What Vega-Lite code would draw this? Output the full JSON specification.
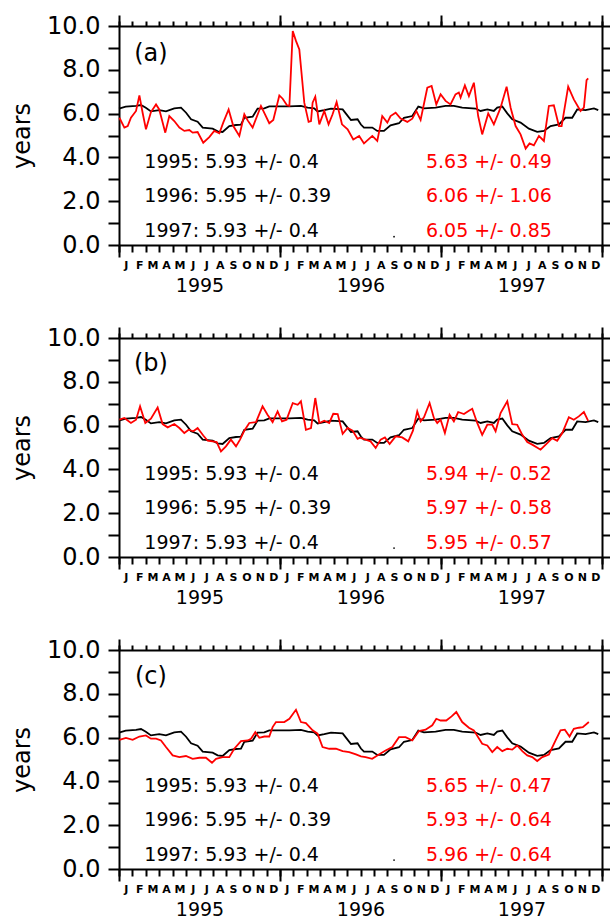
{
  "$schema": "https://vega.github.io/schema/vega-lite/v6.json",
  "padding": {"left": 10, "top": 14, "right": 5, "bottom": 5},
  "config": {
    "font": "DejaVu Sans",
    "view": {"stroke": null},
    "axis": {"grid": false, "domainColor": "black", "domainWidth": 2, "tickColor": "black", "tickWidth": 2, "labelColor": "black", "titleColor": "black", "labelFlush": false, "labelOverlap": false, "labelBound": false}
  },
  "datasets": {
    "black": [
      {"t":0.0,"v":6.23},{"t":0.5,"v":6.32},{"t":1.27,"v":6.35},{"t":1.64,"v":6.39},{"t":2.0,"v":6.27},{"t":2.38,"v":6.1},{"t":3.0,"v":6.16},{"t":3.5,"v":6.1},{"t":4.12,"v":6.24},{"t":4.62,"v":6.27},{"t":5.0,"v":6.04},{"t":5.37,"v":5.74},{"t":5.86,"v":5.63},{"t":6.24,"v":5.36},{"t":6.98,"v":5.31},{"t":7.35,"v":5.19},{"t":7.72,"v":5.16},{"t":8.22,"v":5.43},{"t":8.72,"v":5.48},{"t":9.09,"v":5.5},{"t":9.34,"v":5.81},{"t":9.96,"v":5.86},{"t":10.33,"v":6.23},{"t":10.83,"v":6.24},{"t":11.2,"v":6.33},{"t":11.95,"v":6.33},{"t":12.7,"v":6.33},{"t":13.56,"v":6.35},{"t":14.06,"v":6.27},{"t":14.55,"v":6.24},{"t":14.8,"v":6.1},{"t":15.3,"v":6.16},{"t":15.8,"v":6.23},{"t":16.67,"v":6.19},{"t":16.9,"v":6.01},{"t":17.29,"v":5.71},{"t":17.78,"v":5.74},{"t":18.03,"v":5.5},{"t":18.26,"v":5.36},{"t":18.88,"v":5.36},{"t":19.25,"v":5.21},{"t":19.75,"v":5.21},{"t":20.24,"v":5.46},{"t":20.87,"v":5.56},{"t":21.24,"v":5.81},{"t":21.86,"v":5.89},{"t":22.31,"v":6.32},{"t":22.73,"v":6.24},{"t":23.6,"v":6.27},{"t":24.34,"v":6.35},{"t":24.96,"v":6.35},{"t":25.58,"v":6.27},{"t":26.58,"v":6.23},{"t":26.95,"v":6.12},{"t":27.45,"v":6.19},{"t":27.94,"v":6.12},{"t":28.19,"v":6.27},{"t":28.57,"v":6.32},{"t":28.94,"v":6.01},{"t":29.31,"v":5.74},{"t":29.93,"v":5.59},{"t":30.55,"v":5.31},{"t":31.17,"v":5.17},{"t":31.67,"v":5.21},{"t":32.17,"v":5.43},{"t":32.79,"v":5.51},{"t":33.28,"v":5.81},{"t":33.78,"v":5.81},{"t":34.15,"v":6.19},{"t":34.77,"v":6.16},{"t":35.4,"v":6.24},{"t":35.72,"v":6.16}
    ],
    "red": [
      {"p":"a","t":0.03,"v":5.81},{"p":"a","t":0.4,"v":5.36},{"p":"a","t":0.65,"v":5.43},{"p":"a","t":0.89,"v":5.81},{"p":"a","t":1.27,"v":6.12},{"p":"a","t":1.52,"v":6.83},{"p":"a","t":1.76,"v":6.04},{"p":"a","t":2.01,"v":5.28},{"p":"a","t":2.38,"v":6.07},{"p":"a","t":2.76,"v":6.42},{"p":"a","t":3.0,"v":6.19},{"p":"a","t":3.45,"v":5.13},{"p":"a","t":3.75,"v":5.89},{"p":"a","t":4.12,"v":5.66},{"p":"a","t":4.5,"v":5.36},{"p":"a","t":4.87,"v":5.21},{"p":"a","t":5.24,"v":5.25},{"p":"a","t":5.49,"v":5.13},{"p":"a","t":5.86,"v":5.16},{"p":"a","t":6.28,"v":4.67},{"p":"a","t":6.73,"v":4.93},{"p":"a","t":7.1,"v":5.21},{"p":"a","t":7.48,"v":5.1},{"p":"a","t":7.77,"v":5.59},{"p":"a","t":8.17,"v":6.19},{"p":"a","t":8.52,"v":5.43},{"p":"a","t":8.97,"v":4.98},{"p":"a","t":9.34,"v":5.97},{"p":"a","t":9.59,"v":5.69},{"p":"a","t":9.96,"v":5.36},{"p":"a","t":10.58,"v":6.35},{"p":"a","t":11.2,"v":5.56},{"p":"a","t":11.5,"v":5.71},{"p":"a","t":11.95,"v":6.83},{"p":"a","t":12.2,"v":6.68},{"p":"a","t":12.52,"v":6.38},{"p":"a","t":12.7,"v":6.35},{"p":"a","t":12.95,"v":9.77},{"p":"a","t":13.19,"v":9.32},{"p":"a","t":13.44,"v":8.93},{"p":"a","t":13.81,"v":6.5},{"p":"a","t":14.13,"v":5.62},{"p":"a","t":14.31,"v":5.66},{"p":"a","t":14.43,"v":6.5},{"p":"a","t":14.63,"v":6.77},{"p":"a","t":14.93,"v":5.51},{"p":"a","t":15.3,"v":6.12},{"p":"a","t":15.62,"v":5.51},{"p":"a","t":15.92,"v":5.97},{"p":"a","t":16.22,"v":6.53},{"p":"a","t":16.62,"v":5.51},{"p":"a","t":17.04,"v":5.28},{"p":"a","t":17.46,"v":4.82},{"p":"a","t":17.9,"v":4.98},{"p":"a","t":18.26,"v":4.64},{"p":"a","t":18.88,"v":4.98},{"p":"a","t":19.25,"v":4.75},{"p":"a","t":19.62,"v":5.89},{"p":"a","t":20.0,"v":5.59},{"p":"a","t":20.24,"v":5.89},{"p":"a","t":20.62,"v":6.04},{"p":"a","t":20.99,"v":5.77},{"p":"a","t":21.49,"v":5.62},{"p":"a","t":21.86,"v":5.77},{"p":"a","t":22.16,"v":6.12},{"p":"a","t":22.48,"v":5.71},{"p":"a","t":22.98,"v":7.18},{"p":"a","t":23.3,"v":7.26},{"p":"a","t":23.65,"v":6.42},{"p":"a","t":23.97,"v":6.88},{"p":"a","t":24.34,"v":6.58},{"p":"a","t":24.71,"v":6.42},{"p":"a","t":25.08,"v":6.88},{"p":"a","t":25.33,"v":6.96},{"p":"a","t":25.46,"v":6.73},{"p":"a","t":25.78,"v":7.29},{"p":"a","t":26.08,"v":6.8},{"p":"a","t":26.45,"v":7.41},{"p":"a","t":26.77,"v":5.89},{"p":"a","t":27.07,"v":5.05},{"p":"a","t":27.52,"v":6.01},{"p":"a","t":27.94,"v":5.51},{"p":"a","t":28.44,"v":6.27},{"p":"a","t":28.89,"v":7.23},{"p":"a","t":29.19,"v":6.27},{"p":"a","t":29.56,"v":5.43},{"p":"a","t":29.93,"v":5.05},{"p":"a","t":30.31,"v":4.4},{"p":"a","t":30.6,"v":4.64},{"p":"a","t":30.92,"v":4.55},{"p":"a","t":31.3,"v":4.98},{"p":"a","t":31.67,"v":4.75},{"p":"a","t":32.04,"v":6.35},{"p":"a","t":32.41,"v":6.38},{"p":"a","t":32.79,"v":5.43},{"p":"a","t":32.99,"v":5.43},{"p":"a","t":33.48,"v":7.23},{"p":"a","t":33.9,"v":6.65},{"p":"a","t":34.4,"v":6.12},{"p":"a","t":34.65,"v":6.27},{"p":"a","t":34.85,"v":7.53},{"p":"a","t":34.97,"v":7.61},
      {"p":"b","t":0.03,"v":6.27},{"p":"b","t":0.4,"v":6.35},{"p":"b","t":0.89,"v":6.12},{"p":"b","t":1.27,"v":6.27},{"p":"b","t":1.57,"v":6.88},{"p":"b","t":1.96,"v":6.12},{"p":"b","t":2.38,"v":6.32},{"p":"b","t":2.88,"v":6.83},{"p":"b","t":3.25,"v":6.07},{"p":"b","t":3.63,"v":5.92},{"p":"b","t":4.12,"v":6.07},{"p":"b","t":4.5,"v":5.89},{"p":"b","t":4.87,"v":5.66},{"p":"b","t":5.19,"v":5.81},{"p":"b","t":5.54,"v":5.74},{"p":"b","t":5.86,"v":5.89},{"p":"b","t":6.28,"v":5.55},{"p":"b","t":6.61,"v":5.31},{"p":"b","t":6.98,"v":5.28},{"p":"b","t":7.28,"v":5.25},{"p":"b","t":7.6,"v":4.82},{"p":"b","t":7.97,"v":5.05},{"p":"b","t":8.34,"v":5.36},{"p":"b","t":8.72,"v":5.05},{"p":"b","t":9.02,"v":5.36},{"p":"b","t":9.34,"v":5.77},{"p":"b","t":9.71,"v":6.12},{"p":"b","t":10.21,"v":6.16},{"p":"b","t":10.7,"v":6.88},{"p":"b","t":11.07,"v":6.5},{"p":"b","t":11.45,"v":6.16},{"p":"b","t":11.82,"v":6.65},{"p":"b","t":12.15,"v":6.19},{"p":"b","t":12.49,"v":6.27},{"p":"b","t":12.95,"v":7.03},{"p":"b","t":13.32,"v":6.95},{"p":"b","t":13.56,"v":7.11},{"p":"b","t":13.93,"v":5.81},{"p":"b","t":14.31,"v":5.89},{"p":"b","t":14.63,"v":7.26},{"p":"b","t":14.93,"v":6.12},{"p":"b","t":15.3,"v":6.22},{"p":"b","t":15.67,"v":6.12},{"p":"b","t":15.97,"v":6.54},{"p":"b","t":16.3,"v":6.53},{"p":"b","t":16.67,"v":5.62},{"p":"b","t":17.04,"v":5.89},{"p":"b","t":17.41,"v":5.77},{"p":"b","t":17.78,"v":5.4},{"p":"b","t":17.95,"v":5.45},{"p":"b","t":18.38,"v":5.36},{"p":"b","t":18.75,"v":5.28},{"p":"b","t":19.13,"v":4.98},{"p":"b","t":19.5,"v":5.36},{"p":"b","t":19.82,"v":5.46},{"p":"b","t":20.17,"v":5.16},{"p":"b","t":20.62,"v":5.51},{"p":"b","t":21.11,"v":5.46},{"p":"b","t":21.56,"v":5.28},{"p":"b","t":21.91,"v":5.77},{"p":"b","t":22.23,"v":6.65},{"p":"b","t":22.48,"v":6.19},{"p":"b","t":22.73,"v":6.38},{"p":"b","t":23.15,"v":7.03},{"p":"b","t":23.47,"v":6.35},{"p":"b","t":23.72,"v":6.12},{"p":"b","t":23.97,"v":6.27},{"p":"b","t":24.29,"v":5.66},{"p":"b","t":24.64,"v":6.5},{"p":"b","t":24.96,"v":6.19},{"p":"b","t":25.28,"v":6.62},{"p":"b","t":25.71,"v":6.53},{"p":"b","t":26.08,"v":6.68},{"p":"b","t":26.33,"v":6.77},{"p":"b","t":26.7,"v":6.12},{"p":"b","t":27.07,"v":5.58},{"p":"b","t":27.45,"v":6.04},{"p":"b","t":27.82,"v":6.04},{"p":"b","t":28.07,"v":5.74},{"p":"b","t":28.44,"v":6.57},{"p":"b","t":28.94,"v":7.11},{"p":"b","t":29.31,"v":6.07},{"p":"b","t":29.68,"v":6.04},{"p":"b","t":30.06,"v":5.58},{"p":"b","t":30.43,"v":5.25},{"p":"b","t":30.8,"v":5.13},{"p":"b","t":31.42,"v":4.9},{"p":"b","t":31.92,"v":5.2},{"p":"b","t":32.29,"v":5.43},{"p":"b","t":32.66,"v":5.31},{"p":"b","t":33.04,"v":5.66},{"p":"b","t":33.53,"v":6.38},{"p":"b","t":33.9,"v":6.27},{"p":"b","t":34.27,"v":6.42},{"p":"b","t":34.65,"v":6.62},{"p":"b","t":34.97,"v":6.22},
      {"p":"c","t":0.03,"v":5.9},{"p":"c","t":0.52,"v":5.99},{"p":"c","t":1.02,"v":5.9},{"p":"c","t":1.52,"v":6.05},{"p":"c","t":2.01,"v":6.1},{"p":"c","t":2.38,"v":5.95},{"p":"c","t":2.76,"v":5.95},{"p":"c","t":3.13,"v":5.87},{"p":"c","t":3.5,"v":5.57},{"p":"c","t":4.0,"v":5.19},{"p":"c","t":4.5,"v":5.11},{"p":"c","t":4.99,"v":5.16},{"p":"c","t":5.49,"v":5.03},{"p":"c","t":5.99,"v":5.08},{"p":"c","t":6.48,"v":5.08},{"p":"c","t":6.93,"v":4.85},{"p":"c","t":7.23,"v":5.03},{"p":"c","t":7.72,"v":5.11},{"p":"c","t":8.22,"v":5.11},{"p":"c","t":8.59,"v":5.49},{"p":"c","t":9.09,"v":5.84},{"p":"c","t":9.59,"v":5.87},{"p":"c","t":9.84,"v":5.95},{"p":"c","t":10.16,"v":6.25},{"p":"c","t":10.46,"v":5.99},{"p":"c","t":10.83,"v":6.05},{"p":"c","t":11.2,"v":6.05},{"p":"c","t":11.45,"v":6.48},{"p":"c","t":11.7,"v":6.71},{"p":"c","t":12.32,"v":6.71},{"p":"c","t":12.7,"v":6.86},{"p":"c","t":13.19,"v":7.27},{"p":"c","t":13.56,"v":6.71},{"p":"c","t":13.93,"v":6.66},{"p":"c","t":14.43,"v":6.33},{"p":"c","t":14.8,"v":6.18},{"p":"c","t":15.17,"v":5.57},{"p":"c","t":15.67,"v":5.49},{"p":"c","t":16.17,"v":5.49},{"p":"c","t":16.67,"v":5.38},{"p":"c","t":17.16,"v":5.34},{"p":"c","t":17.66,"v":5.23},{"p":"c","t":18.03,"v":5.14},{"p":"c","t":18.38,"v":5.11},{"p":"c","t":18.87,"v":5.03},{"p":"c","t":19.37,"v":5.23},{"p":"c","t":19.87,"v":5.41},{"p":"c","t":20.37,"v":5.57},{"p":"c","t":20.87,"v":6.02},{"p":"c","t":21.36,"v":6.02},{"p":"c","t":21.86,"v":5.87},{"p":"c","t":22.36,"v":6.3},{"p":"c","t":22.85,"v":6.36},{"p":"c","t":23.35,"v":6.56},{"p":"c","t":23.65,"v":6.86},{"p":"c","t":23.97,"v":6.78},{"p":"c","t":24.39,"v":6.78},{"p":"c","t":24.79,"v":6.97},{"p":"c","t":25.14,"v":7.17},{"p":"c","t":25.58,"v":6.71},{"p":"c","t":26.08,"v":6.45},{"p":"c","t":26.45,"v":6.33},{"p":"c","t":26.77,"v":6.02},{"p":"c","t":27.07,"v":5.72},{"p":"c","t":27.45,"v":5.64},{"p":"c","t":27.82,"v":5.34},{"p":"c","t":28.19,"v":5.57},{"p":"c","t":28.57,"v":5.38},{"p":"c","t":28.94,"v":5.49},{"p":"c","t":29.31,"v":5.45},{"p":"c","t":29.68,"v":5.64},{"p":"c","t":30.06,"v":5.38},{"p":"c","t":30.43,"v":5.19},{"p":"c","t":30.8,"v":5.11},{"p":"c","t":31.17,"v":4.93},{"p":"c","t":31.55,"v":5.11},{"p":"c","t":32.04,"v":5.23},{"p":"c","t":32.54,"v":5.87},{"p":"c","t":32.91,"v":6.33},{"p":"c","t":33.23,"v":6.36},{"p":"c","t":33.58,"v":6.05},{"p":"c","t":33.9,"v":6.4},{"p":"c","t":34.27,"v":6.45},{"p":"c","t":34.57,"v":6.48},{"p":"c","t":35.02,"v":6.71}
    ],
    "stats": [
      {"p":"all","c":"k","t":1.89,"v":3.8,"label":"1995: 5.93 +/- 0.4"},
      {"p":"all","c":"k","t":1.89,"v":2.23,"label":"1996: 5.95 +/- 0.39"},
      {"p":"all","c":"k","t":1.89,"v":0.65,"label":"1997: 5.93 +/- 0.4"},
      {"p":"a","c":"r","t":22.88,"v":3.8,"label":"5.63 +/- 0.49"},
      {"p":"a","c":"r","t":22.88,"v":2.23,"label":"6.06 +/- 1.06"},
      {"p":"a","c":"r","t":22.88,"v":0.65,"label":"6.05 +/- 0.85"},
      {"p":"b","c":"r","t":22.88,"v":3.8,"label":"5.94 +/- 0.52"},
      {"p":"b","c":"r","t":22.88,"v":2.23,"label":"5.97 +/- 0.58"},
      {"p":"b","c":"r","t":22.88,"v":0.65,"label":"5.95 +/- 0.57"},
      {"p":"c","c":"r","t":22.88,"v":3.8,"label":"5.65 +/- 0.47"},
      {"p":"c","c":"r","t":22.88,"v":2.23,"label":"5.93 +/- 0.64"},
      {"p":"c","c":"r","t":22.88,"v":0.65,"label":"5.96 +/- 0.64"}
    ],
    "panels": [
      {"p":"a","t":2.38,"v":8.7,"label":"(a)","dt":20.5,"dv":0.38},
      {"p":"b","t":2.38,"v":8.8,"label":"(b)","dt":20.5,"dv":0.41},
      {"p":"c","t":2.38,"v":8.77,"label":"(c)","dt":20.5,"dv":0.41}
    ]
  },
  "vconcat": [
    {
      "width": 483, "height": 219,
      "layer": [
        {"data": {"name": "black"}, "mark": {"type": "line", "color": "black", "strokeWidth": 1.8},
         "encoding": {
           "x": {"field": "t", "type": "quantitative", "scale": {"domain": [0, 36], "nice": false, "zero": false}, "axis": {"orient": "bottom", "values": [0,1,2,3,4,5,6,7,8,9,10,11,12,13,14,15,16,17,18,19,20,21,22,23,24,25,26,27,28,29,30,31,32,33,34,35,36], "tickSize": 7, "labels": false, "domain": true, "title": null}},
           "y": {"field": "v", "type": "quantitative", "scale": {"domain": [0, 10], "nice": false, "zero": false}, "axis": {"orient": "left", "values": [0,1,2,3,4,5,6,7,8,9,10], "tickSize": 11, "labelExpr": "datum.value % 2 === 0 ? format(datum.value, '.1f') : ''", "labelFontSize": 24, "labelPadding": 8, "title": "years", "titleFontSize": 24, "titleFontWeight": "normal", "titlePadding": 12}}
         }},
        {"data": {"name": "red"}, "transform": [{"filter": "datum.p === 'a'"}], "mark": {"type": "line", "color": "#ff0000", "strokeWidth": 1.8},
         "encoding": {
           "x": {"field": "t", "type": "quantitative", "scale": {"domain": [0, 36], "nice": false, "zero": false}, "axis": {"orient": "bottom", "values": [0, 12, 24, 36], "tickSize": 12, "labels": false, "domain": false, "title": null}},
           "y": {"field": "v", "type": "quantitative", "scale": {"domain": [0, 10], "nice": false, "zero": false}, "axis": {"orient": "right", "values": [0,1,2,3,4,5,6,7,8,9,10], "tickSize": 9, "labels": false, "domain": true, "title": null}}
         }},
        {"data": {"name": "stats"}, "transform": [{"filter": "datum.c === 'k'"}], "mark": {"type": "text", "align": "left", "baseline": "middle", "fontSize": 19, "color": "black"},
         "encoding": {
           "x": {"field": "t", "type": "quantitative", "scale": {"domain": [0, 36], "nice": false, "zero": false}, "axis": {"orient": "bottom", "values": [0.5,1.5,2.5,3.5,4.5,5.5,6.5,7.5,8.5,9.5,10.5,11.5,12.5,13.5,14.5,15.5,16.5,17.5,18.5,19.5,20.5,21.5,22.5,23.5,24.5,25.5,26.5,27.5,28.5,29.5,30.5,31.5,32.5,33.5,34.5,35.5], "ticks": false, "tickSize": 0, "domain": false, "labelExpr": "['J','F','M','A','M','J','J','A','S','O','N','D'][floor(datum.value) % 12]", "labelFontSize": 11, "labelFontWeight": "bold", "labelPadding": 14, "title": null}},
           "y": {"field": "v", "type": "quantitative", "scale": {"domain": [0, 10], "nice": false, "zero": false}, "axis": null},
           "text": {"field": "label"}
         }},
        {"data": {"name": "stats"}, "transform": [{"filter": "datum.p === 'a'"}], "mark": {"type": "text", "align": "left", "baseline": "middle", "fontSize": 19, "color": "#ff0000"},
         "encoding": {
           "x": {"field": "t", "type": "quantitative", "scale": {"domain": [0, 36], "nice": false, "zero": false}, "axis": {"orient": "bottom", "values": [6, 18, 30], "ticks": false, "tickSize": 0, "domain": false, "labelExpr": "'' + (1995 + floor(datum.value / 12))", "labelFontSize": 19, "labelPadding": 31, "title": null}},
           "y": {"field": "v", "type": "quantitative", "scale": {"domain": [0, 10], "nice": false, "zero": false}, "axis": null},
           "text": {"field": "label"}
         }},
        {"data": {"name": "panels"}, "transform": [{"filter": "datum.p === 'a'"}], "mark": {"type": "text", "align": "center", "baseline": "middle", "fontSize": 24, "color": "black"},
         "encoding": {
           "x": {"field": "t", "type": "quantitative", "scale": {"domain": [0, 36], "nice": false, "zero": false}, "axis": {"orient": "top", "values": [0,1,2,3,4,5,6,7,8,9,10,11,12,13,14,15,16,17,18,19,20,21,22,23,24,25,26,27,28,29,30,31,32,33,34,35,36], "tickSize": 5, "labels": false, "domain": true, "title": null}},
           "y": {"field": "v", "type": "quantitative", "scale": {"domain": [0, 10], "nice": false, "zero": false}, "axis": null},
           "text": {"field": "label"}
         }},
        {"data": {"name": "panels"}, "transform": [{"filter": "datum.p === 'a'"}], "mark": {"type": "circle", "size": 3, "color": "black", "opacity": 1},
         "encoding": {
           "x": {"field": "dt", "type": "quantitative", "scale": {"domain": [0, 36], "nice": false, "zero": false}, "axis": {"orient": "top", "values": [0, 12, 24, 36], "tickSize": 11, "labels": false, "domain": false, "title": null}},
           "y": {"field": "dv", "type": "quantitative", "scale": {"domain": [0, 10], "nice": false, "zero": false}, "axis": null}
         }}
      ],
      "resolve": {"axis": {"x": "independent", "y": "independent"}}
    },
    {
      "width": 483, "height": 219,
      "layer": [
        {"data": {"name": "black"}, "mark": {"type": "line", "color": "black", "strokeWidth": 1.8},
         "encoding": {
           "x": {"field": "t", "type": "quantitative", "scale": {"domain": [0, 36], "nice": false, "zero": false}, "axis": {"orient": "bottom", "values": [0,1,2,3,4,5,6,7,8,9,10,11,12,13,14,15,16,17,18,19,20,21,22,23,24,25,26,27,28,29,30,31,32,33,34,35,36], "tickSize": 7, "labels": false, "domain": true, "title": null}},
           "y": {"field": "v", "type": "quantitative", "scale": {"domain": [0, 10], "nice": false, "zero": false}, "axis": {"orient": "left", "values": [0,1,2,3,4,5,6,7,8,9,10], "tickSize": 11, "labelExpr": "datum.value % 2 === 0 ? format(datum.value, '.1f') : ''", "labelFontSize": 24, "labelPadding": 8, "title": "years", "titleFontSize": 24, "titleFontWeight": "normal", "titlePadding": 12}}
         }},
        {"data": {"name": "red"}, "transform": [{"filter": "datum.p === 'b'"}], "mark": {"type": "line", "color": "#ff0000", "strokeWidth": 1.8},
         "encoding": {
           "x": {"field": "t", "type": "quantitative", "scale": {"domain": [0, 36], "nice": false, "zero": false}, "axis": {"orient": "bottom", "values": [0, 12, 24, 36], "tickSize": 12, "labels": false, "domain": false, "title": null}},
           "y": {"field": "v", "type": "quantitative", "scale": {"domain": [0, 10], "nice": false, "zero": false}, "axis": {"orient": "right", "values": [0,1,2,3,4,5,6,7,8,9,10], "tickSize": 9, "labels": false, "domain": true, "title": null}}
         }},
        {"data": {"name": "stats"}, "transform": [{"filter": "datum.c === 'k'"}], "mark": {"type": "text", "align": "left", "baseline": "middle", "fontSize": 19, "color": "black"},
         "encoding": {
           "x": {"field": "t", "type": "quantitative", "scale": {"domain": [0, 36], "nice": false, "zero": false}, "axis": {"orient": "bottom", "values": [0.5,1.5,2.5,3.5,4.5,5.5,6.5,7.5,8.5,9.5,10.5,11.5,12.5,13.5,14.5,15.5,16.5,17.5,18.5,19.5,20.5,21.5,22.5,23.5,24.5,25.5,26.5,27.5,28.5,29.5,30.5,31.5,32.5,33.5,34.5,35.5], "ticks": false, "tickSize": 0, "domain": false, "labelExpr": "['J','F','M','A','M','J','J','A','S','O','N','D'][floor(datum.value) % 12]", "labelFontSize": 11, "labelFontWeight": "bold", "labelPadding": 14, "title": null}},
           "y": {"field": "v", "type": "quantitative", "scale": {"domain": [0, 10], "nice": false, "zero": false}, "axis": null},
           "text": {"field": "label"}
         }},
        {"data": {"name": "stats"}, "transform": [{"filter": "datum.p === 'b'"}], "mark": {"type": "text", "align": "left", "baseline": "middle", "fontSize": 19, "color": "#ff0000"},
         "encoding": {
           "x": {"field": "t", "type": "quantitative", "scale": {"domain": [0, 36], "nice": false, "zero": false}, "axis": {"orient": "bottom", "values": [6, 18, 30], "ticks": false, "tickSize": 0, "domain": false, "labelExpr": "'' + (1995 + floor(datum.value / 12))", "labelFontSize": 19, "labelPadding": 31, "title": null}},
           "y": {"field": "v", "type": "quantitative", "scale": {"domain": [0, 10], "nice": false, "zero": false}, "axis": null},
           "text": {"field": "label"}
         }},
        {"data": {"name": "panels"}, "transform": [{"filter": "datum.p === 'b'"}], "mark": {"type": "text", "align": "center", "baseline": "middle", "fontSize": 24, "color": "black"},
         "encoding": {
           "x": {"field": "t", "type": "quantitative", "scale": {"domain": [0, 36], "nice": false, "zero": false}, "axis": {"orient": "top", "values": [0,1,2,3,4,5,6,7,8,9,10,11,12,13,14,15,16,17,18,19,20,21,22,23,24,25,26,27,28,29,30,31,32,33,34,35,36], "tickSize": 5, "labels": false, "domain": true, "title": null}},
           "y": {"field": "v", "type": "quantitative", "scale": {"domain": [0, 10], "nice": false, "zero": false}, "axis": null},
           "text": {"field": "label"}
         }},
        {"data": {"name": "panels"}, "transform": [{"filter": "datum.p === 'b'"}], "mark": {"type": "circle", "size": 3, "color": "black", "opacity": 1},
         "encoding": {
           "x": {"field": "dt", "type": "quantitative", "scale": {"domain": [0, 36], "nice": false, "zero": false}, "axis": {"orient": "top", "values": [0, 12, 24, 36], "tickSize": 11, "labels": false, "domain": false, "title": null}},
           "y": {"field": "dv", "type": "quantitative", "scale": {"domain": [0, 10], "nice": false, "zero": false}, "axis": null}
         }}
      ],
      "resolve": {"axis": {"x": "independent", "y": "independent"}}
    },
    {
      "width": 483, "height": 219,
      "layer": [
        {"data": {"name": "black"}, "mark": {"type": "line", "color": "black", "strokeWidth": 1.8},
         "encoding": {
           "x": {"field": "t", "type": "quantitative", "scale": {"domain": [0, 36], "nice": false, "zero": false}, "axis": {"orient": "bottom", "values": [0,1,2,3,4,5,6,7,8,9,10,11,12,13,14,15,16,17,18,19,20,21,22,23,24,25,26,27,28,29,30,31,32,33,34,35,36], "tickSize": 7, "labels": false, "domain": true, "title": null}},
           "y": {"field": "v", "type": "quantitative", "scale": {"domain": [0, 10], "nice": false, "zero": false}, "axis": {"orient": "left", "values": [0,1,2,3,4,5,6,7,8,9,10], "tickSize": 11, "labelExpr": "datum.value % 2 === 0 ? format(datum.value, '.1f') : ''", "labelFontSize": 24, "labelPadding": 8, "title": "years", "titleFontSize": 24, "titleFontWeight": "normal", "titlePadding": 12}}
         }},
        {"data": {"name": "red"}, "transform": [{"filter": "datum.p === 'c'"}], "mark": {"type": "line", "color": "#ff0000", "strokeWidth": 1.8},
         "encoding": {
           "x": {"field": "t", "type": "quantitative", "scale": {"domain": [0, 36], "nice": false, "zero": false}, "axis": {"orient": "bottom", "values": [0, 12, 24, 36], "tickSize": 12, "labels": false, "domain": false, "title": null}},
           "y": {"field": "v", "type": "quantitative", "scale": {"domain": [0, 10], "nice": false, "zero": false}, "axis": {"orient": "right", "values": [0,1,2,3,4,5,6,7,8,9,10], "tickSize": 9, "labels": false, "domain": true, "title": null}}
         }},
        {"data": {"name": "stats"}, "transform": [{"filter": "datum.c === 'k'"}], "mark": {"type": "text", "align": "left", "baseline": "middle", "fontSize": 19, "color": "black"},
         "encoding": {
           "x": {"field": "t", "type": "quantitative", "scale": {"domain": [0, 36], "nice": false, "zero": false}, "axis": {"orient": "bottom", "values": [0.5,1.5,2.5,3.5,4.5,5.5,6.5,7.5,8.5,9.5,10.5,11.5,12.5,13.5,14.5,15.5,16.5,17.5,18.5,19.5,20.5,21.5,22.5,23.5,24.5,25.5,26.5,27.5,28.5,29.5,30.5,31.5,32.5,33.5,34.5,35.5], "ticks": false, "tickSize": 0, "domain": false, "labelExpr": "['J','F','M','A','M','J','J','A','S','O','N','D'][floor(datum.value) % 12]", "labelFontSize": 11, "labelFontWeight": "bold", "labelPadding": 14, "title": null}},
           "y": {"field": "v", "type": "quantitative", "scale": {"domain": [0, 10], "nice": false, "zero": false}, "axis": null},
           "text": {"field": "label"}
         }},
        {"data": {"name": "stats"}, "transform": [{"filter": "datum.p === 'c'"}], "mark": {"type": "text", "align": "left", "baseline": "middle", "fontSize": 19, "color": "#ff0000"},
         "encoding": {
           "x": {"field": "t", "type": "quantitative", "scale": {"domain": [0, 36], "nice": false, "zero": false}, "axis": {"orient": "bottom", "values": [6, 18, 30], "ticks": false, "tickSize": 0, "domain": false, "labelExpr": "'' + (1995 + floor(datum.value / 12))", "labelFontSize": 19, "labelPadding": 31, "title": null}},
           "y": {"field": "v", "type": "quantitative", "scale": {"domain": [0, 10], "nice": false, "zero": false}, "axis": null},
           "text": {"field": "label"}
         }},
        {"data": {"name": "panels"}, "transform": [{"filter": "datum.p === 'c'"}], "mark": {"type": "text", "align": "center", "baseline": "middle", "fontSize": 24, "color": "black"},
         "encoding": {
           "x": {"field": "t", "type": "quantitative", "scale": {"domain": [0, 36], "nice": false, "zero": false}, "axis": {"orient": "top", "values": [0,1,2,3,4,5,6,7,8,9,10,11,12,13,14,15,16,17,18,19,20,21,22,23,24,25,26,27,28,29,30,31,32,33,34,35,36], "tickSize": 5, "labels": false, "domain": true, "title": null}},
           "y": {"field": "v", "type": "quantitative", "scale": {"domain": [0, 10], "nice": false, "zero": false}, "axis": null},
           "text": {"field": "label"}
         }},
        {"data": {"name": "panels"}, "transform": [{"filter": "datum.p === 'c'"}], "mark": {"type": "circle", "size": 3, "color": "black", "opacity": 1},
         "encoding": {
           "x": {"field": "dt", "type": "quantitative", "scale": {"domain": [0, 36], "nice": false, "zero": false}, "axis": {"orient": "top", "values": [0, 12, 24, 36], "tickSize": 11, "labels": false, "domain": false, "title": null}},
           "y": {"field": "dv", "type": "quantitative", "scale": {"domain": [0, 10], "nice": false, "zero": false}, "axis": null}
         }}
      ],
      "resolve": {"axis": {"x": "independent", "y": "independent"}}
    }
  ],
  "spacing": 93,
  "bounds": "flush"
}
